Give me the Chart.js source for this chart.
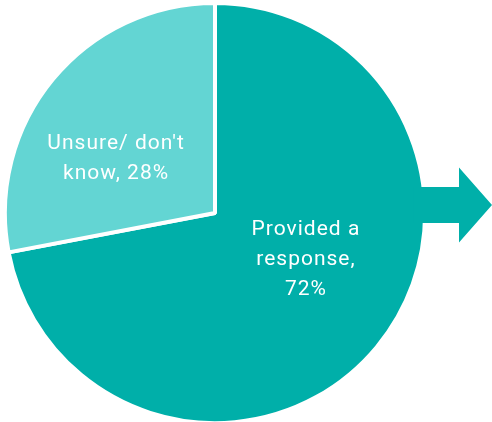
<!DOCTYPE html>
<html>
<head>
<meta charset="utf-8">
<script src="https://cdn.jsdelivr.net/npm/chart.js@4/dist/chart.umd.min.js"></script>
<style>
  html, body { margin: 0; padding: 0; background: #ffffff; }
  #wrap { width: 492px; height: 422px; position: relative; }
</style>
</head>
<body>
<div id="wrap"><canvas id="pie"></canvas></div>
<script>
// Survey answers: share of respondents
const categories = ["Provided a response", "Unsure/ don't know"];
const shares = [72, 28];
const labelLines = [["Provided a", "response,", "72%"], ["Unsure/ don't", "know, 28%"]];
const sliceColors = ["#00AFA9", "#63D5D3"];

// Where each label block sits relative to the slice's centre point
const labelNudge = [[10, -20], [-18, 13]];

// Arrow pointing out of the right side of the pie, drawn over the rim
const arrowPlugin = {
  id: 'arrow',
  afterDatasetsDraw(chart) {
    const arc = chart.getDatasetMeta(0).data[0];
    const ctx = chart.ctx;
    const cx = arc.x, cy = arc.y, r = arc.outerRadius;
    const right = chart.width;
    const headBase = right - 33;
    const mid = cy - 8;
    ctx.save();
    ctx.fillStyle = sliceColors[0];
    ctx.beginPath();
    ctx.moveTo(cx + r - 12, mid - 18);
    ctx.lineTo(headBase, mid - 18);
    ctx.lineTo(headBase, mid - 37.5);
    ctx.lineTo(right, mid);
    ctx.lineTo(headBase, mid + 37.5);
    ctx.lineTo(headBase, mid + 18);
    ctx.lineTo(cx + r - 12, mid + 18);
    ctx.closePath();
    ctx.fill();
    ctx.restore();
  }
};

// Multi-line white labels inside the slices
const sliceLabels = {
  id: 'sliceLabels',
  afterDatasetsDraw(chart) {
    const ctx = chart.ctx;
    const meta = chart.getDatasetMeta(0);
    ctx.save();
    ctx.fillStyle = '#ffffff';
    ctx.font = '400 21px Roboto, "Open Sans", sans-serif';
    ctx.letterSpacing = '1px';
    ctx.textAlign = 'center';
    ctx.textBaseline = 'middle';
    const lh = 30;
    meta.data.forEach((arc, i) => {
      const p = arc.getCenterPoint();
      const lines = labelLines[i];
      const x = p.x + labelNudge[i][0];
      const y0 = p.y + labelNudge[i][1] - (lines.length - 1) * lh / 2;
      lines.forEach((t, k) => ctx.fillText(t, x, y0 + k * lh));
    });
    ctx.restore();
  }
};

new Chart(document.getElementById('pie'), {
  type: 'pie',
  data: {
    labels: categories,
    datasets: [{
      data: shares,
      backgroundColor: sliceColors,
      borderColor: '#ffffff',
      borderWidth: 4,
      radius: '101.5%'
    }]
  },
  options: {
    responsive: true,
    maintainAspectRatio: false,
    animation: false,
    layout: { padding: { left: 3, right: 65, top: 4, bottom: 0 } },
    plugins: {
      legend: { display: false },
      tooltip: { enabled: false }
    }
  },
  plugins: [arrowPlugin, sliceLabels]
});
</script>
</body>
</html>
